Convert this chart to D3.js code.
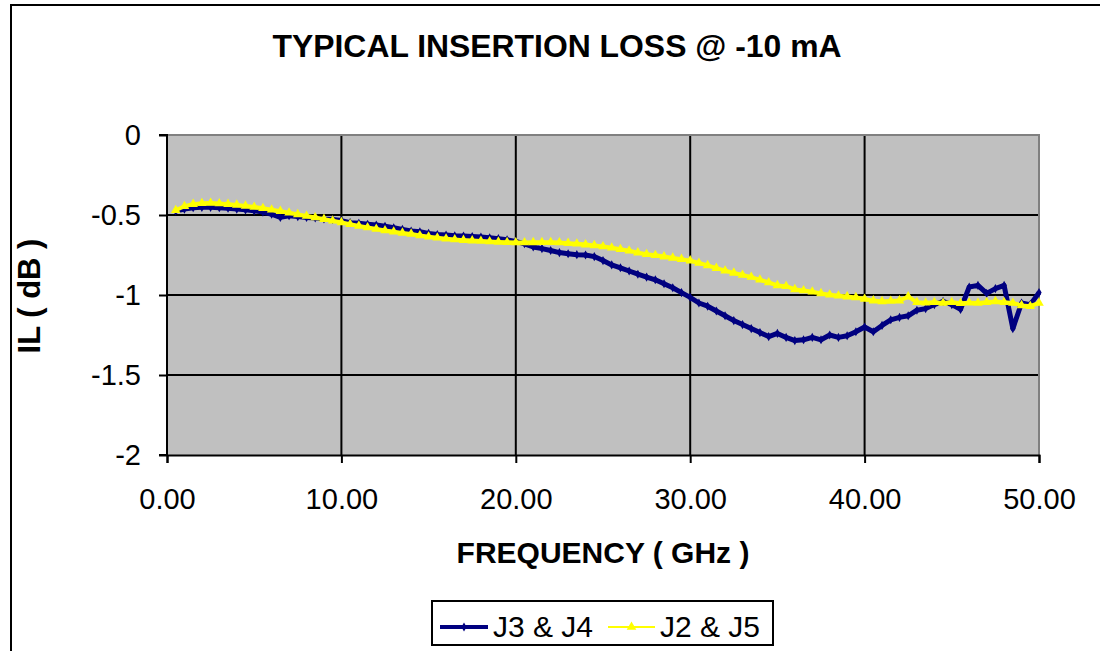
<!DOCTYPE html>
<html>
<head>
<meta charset="utf-8">
<script src="https://cdn.jsdelivr.net/npm/d3@7"></script>
<style>
  html, body { margin: 0; padding: 0; background: #fff; }
  svg { display: block; font-family: Arial, "Liberation Sans", sans-serif; }
</style>
</head>
<body>
<svg id="chart" width="1100" height="651"></svg>
<script>
const freqs = [0.5,1.0,1.5,2.0,2.5,3.0,3.5,4.0,4.5,5.0,5.5,6.0,6.5,7.0,7.5,8.0,8.5,9.0,9.5,10.0,
  10.5,11.0,11.5,12.0,12.5,13.0,13.5,14.0,14.5,15.0,15.5,16.0,16.5,17.0,17.5,18.0,18.5,19.0,19.5,20.0,
  20.5,21.0,21.5,22.0,22.5,23.0,23.5,24.0,24.5,25.0,25.5,26.0,26.5,27.0,27.5,28.0,28.5,29.0,29.5,30.0,
  30.5,31.0,31.5,32.0,32.5,33.0,33.5,34.0,34.5,35.0,35.5,36.0,36.5,37.0,37.5,38.0,38.5,39.0,39.5,40.0,
  40.5,41.0,41.5,42.0,42.5,43.0,43.5,44.0,44.5,45.0,45.5,46.0,46.5,47.0,47.5,48.0,48.5,49.0,49.5,50.0];

const j3j4 = [-0.475,-0.463,-0.455,-0.452,-0.452,-0.455,-0.458,-0.463,-0.468,-0.474,
  -0.482,-0.495,-0.515,-0.505,-0.510,-0.515,-0.518,-0.525,-0.528,-0.535,
  -0.548,-0.552,-0.558,-0.563,-0.570,-0.580,-0.590,-0.600,-0.605,-0.615,
  -0.622,-0.625,-0.630,-0.632,-0.635,-0.638,-0.642,-0.648,-0.655,-0.665,
  -0.680,-0.700,-0.710,-0.722,-0.735,-0.742,-0.748,-0.750,-0.760,-0.785,
  -0.812,-0.830,-0.850,-0.870,-0.888,-0.905,-0.930,-0.955,-0.985,-1.015,
  -1.050,-1.070,-1.100,-1.130,-1.160,-1.185,-1.210,-1.235,-1.260,-1.240,
  -1.265,-1.285,-1.280,-1.265,-1.280,-1.250,-1.265,-1.255,-1.230,-1.200,
  -1.230,-1.190,-1.155,-1.140,-1.130,-1.095,-1.085,-1.060,-1.040,-1.060,
  -1.090,-0.950,-0.940,-0.990,-0.960,-0.940,-1.210,-1.050,-1.060,-0.985];

const j2j5 = [-0.470,-0.445,-0.432,-0.427,-0.425,-0.428,-0.432,-0.437,-0.443,-0.450,
  -0.458,-0.467,-0.476,-0.486,-0.496,-0.506,-0.516,-0.526,-0.536,-0.546,
  -0.558,-0.568,-0.578,-0.588,-0.597,-0.605,-0.612,-0.618,-0.628,-0.636,
  -0.642,-0.648,-0.653,-0.657,-0.660,-0.663,-0.666,-0.668,-0.670,-0.672,
  -0.672,-0.671,-0.670,-0.670,-0.672,-0.676,-0.680,-0.685,-0.690,-0.697,
  -0.705,-0.714,-0.724,-0.735,-0.745,-0.752,-0.760,-0.768,-0.776,-0.785,
  -0.800,-0.815,-0.832,-0.848,-0.862,-0.875,-0.888,-0.905,-0.922,-0.940,
  -0.945,-0.965,-0.972,-0.980,-0.990,-0.998,-1.005,-1.010,-1.015,-1.025,
  -1.035,-1.040,-1.038,-1.035,-1.010,-1.045,-1.048,-1.045,-1.050,-1.045,
  -1.052,-1.048,-1.050,-1.045,-1.040,-1.045,-1.050,-1.065,-1.070,-1.050];

const seriesNames = ["J3 & J4", "J2 & J5"];
const seriesColors = ["#000080", "#FFFF00"];
const xTicks = [0, 10, 20, 30, 40, 50];
const yTicks = [0, -0.5, -1, -1.5, -2];
const titleText = "TYPICAL INSERTION LOSS @ -10 mA";
const xTitle = "FREQUENCY ( GHz )";
const yTitle = "IL ( dB )";

const svg = d3.select("#chart");
const W = 1100, H = 651;
const plot = { left: 167, right: 1039, top: 135, bottom: 455 };
const FONT = "Arial, 'Liberation Sans', sans-serif";

// outer chart frame
svg.append("rect").attr("x", 11).attr("y", 5).attr("width", W + 20).attr("height", H + 20)
  .attr("fill", "#fff").attr("stroke", "#000").attr("stroke-width", 2);

const x = d3.scaleLinear().domain([0, 50]).range([plot.left, plot.right]);
const y = d3.scaleLinear().domain([-2, 0]).range([plot.bottom, plot.top]);

// plot area
svg.append("rect").attr("x", plot.left).attr("y", plot.top)
  .attr("width", plot.right - plot.left).attr("height", plot.bottom - plot.top)
  .attr("fill", "#C0C0C0");

// gridlines
const g = svg.append("g");
g.selectAll(".hg").data(yTicks.filter(d => d !== 0 && d !== -2)).join("line")
  .attr("x1", plot.left).attr("x2", plot.right)
  .attr("y1", d => y(d)).attr("y2", d => y(d))
  .attr("stroke", "#000").attr("stroke-width", 2);
g.selectAll(".vg").data(xTicks.filter(d => d !== 0 && d !== 50)).join("line")
  .attr("y1", plot.top).attr("y2", plot.bottom)
  .attr("x1", d => x(d)).attr("x2", d => x(d))
  .attr("stroke", "#000").attr("stroke-width", 2);

// plot border top/right gray
svg.append("path")
  .attr("d", `M${plot.left},${plot.top}H${plot.right}V${plot.bottom}`)
  .attr("fill", "none").attr("stroke", "#808080").attr("stroke-width", 2);

// axes
const xAxis = d3.axisBottom(x).tickValues(xTicks).tickFormat(d3.format(".2f")).tickSize(8).tickPadding(25);
const yAxis = d3.axisLeft(y).tickValues(yTicks).tickFormat(d => String(d)).tickSize(8).tickPadding(18);

const gx = svg.append("g").attr("transform", `translate(0,${plot.bottom})`).call(xAxis);
const gy = svg.append("g").attr("transform", `translate(${plot.left},0)`).call(yAxis);
[gx, gy].forEach(a => {
  a.select(".domain").attr("stroke", "#000").attr("stroke-width", 2);
  a.selectAll(".tick line").attr("stroke", "#000").attr("stroke-width", 2);
  a.selectAll(".tick text").attr("fill", "#000").style("font-size", "29px")
    .style("font-family", FONT);
});
gy.select(".domain").attr("d", `M-8,${plot.top}H0V${plot.bottom}H-8`);

// series
const data = [j3j4, j2j5];
const line = d3.line().x((d, i) => x(freqs[i])).y(d => y(d));
const plotG = svg.append("g");
data.forEach((vals, si) => {
  plotG.append("path").datum(vals).attr("d", line)
    .attr("fill", "none").attr("stroke", seriesColors[si])
    .attr("stroke-width", si === 0 ? 5 : 4).attr("stroke-linejoin", "round");
  const sym = d3.symbol().type(si === 0 ? d3.symbolDiamond : d3.symbolTriangle).size(si === 0 ? 24 : 40);
  plotG.selectAll(".m" + si).data(vals).join("path")
    .attr("transform", (d, i) => `translate(${x(freqs[i])},${y(d)})`)
    .attr("d", sym).attr("fill", seriesColors[si]);
});

// titles
svg.append("text").attr("x", 557).attr("y", 57).attr("text-anchor", "middle")
  .style("font-family", FONT).style("font-size", "32px").style("font-weight", "bold")
  .attr("textLength", 569).attr("lengthAdjust", "spacingAndGlyphs").text(titleText);
svg.append("text").attr("x", 603).attr("y", 563).attr("text-anchor", "middle")
  .style("font-family", FONT).style("font-size", "30px").style("font-weight", "bold").text(xTitle);
svg.append("text").attr("transform", "translate(40,296) rotate(-90)").attr("text-anchor", "middle")
  .style("font-family", FONT).style("font-size", "31px").style("font-weight", "bold").text(yTitle);

// legend
const lg = svg.append("g");
lg.append("rect").attr("x", 432).attr("y", 601).attr("width", 341).attr("height", 44)
  .attr("fill", "#fff").attr("stroke", "#000").attr("stroke-width", 2);
const legendItems = [
  { x0: 440, x1: 488, tx: 493 },
  { x0: 608, x1: 655, tx: 660 }
];
legendItems.forEach((it, i) => {
  lg.append("line").attr("x1", it.x0).attr("x2", it.x1).attr("y1", 627).attr("y2", 627)
    .attr("stroke", seriesColors[i]).attr("stroke-width", i === 0 ? 4 : 2);
  lg.append("path").attr("transform", `translate(${(it.x0 + it.x1) / 2},627)`)
    .attr("d", d3.symbol().type(i === 0 ? d3.symbolDiamond : d3.symbolTriangle).size(i === 0 ? 24 : 40)())
    .attr("fill", seriesColors[i]);
  lg.append("text").attr("x", it.tx).attr("y", 637)
    .style("font-family", FONT).style("font-size", "30px").text(seriesNames[i]);
});
</script>
</body>
</html>
